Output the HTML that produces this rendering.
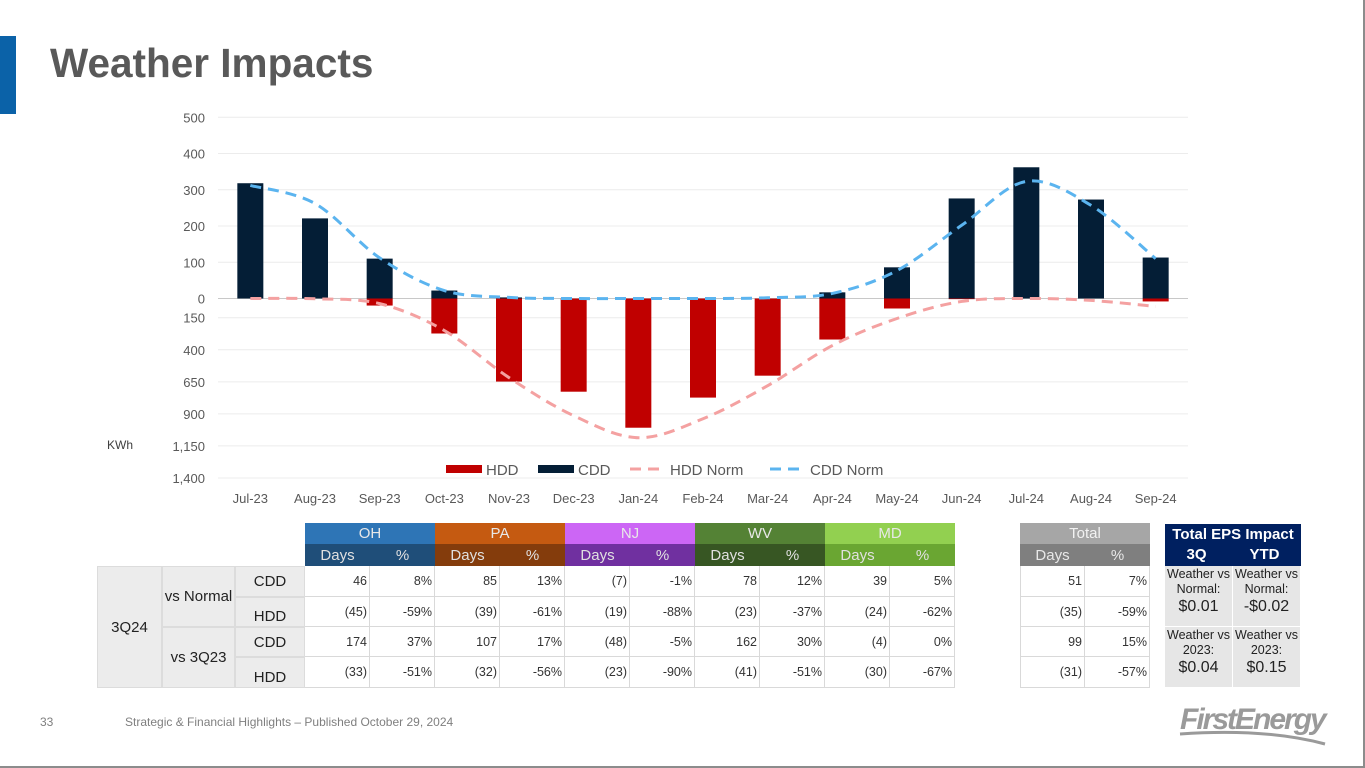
<!DOCTYPE html>
<html><head><meta charset="utf-8"><style>
body{margin:0;width:1365px;height:768px;position:relative;background:#fff;font-family:"Liberation Sans",sans-serif;overflow:hidden}
.a{position:absolute}
.c{position:absolute;display:flex;align-items:center;justify-content:center;box-sizing:border-box;font-size:15px}
.d{position:absolute;box-sizing:border-box;font-size:12.5px;color:#333;text-align:right;padding-right:2px;border-right:1px solid #d9d9d9;border-bottom:1px solid #d9d9d9;line-height:30px}
</style></head><body>
<div class="a" style="left:0;top:0;width:1363px;height:766px;border-right:2px solid #8c8c8c;border-bottom:2px solid #8c8c8c"></div>
<div class="a" style="left:0;top:36px;width:16px;height:78px;background:#0b62a8"></div>
<div class="a" style="left:50px;top:40px;font-size:40.5px;font-weight:bold;color:#595959">Weather Impacts</div>
<svg class="a" style="left:0;top:0" width="1365" height="510" id="chart"></svg>
<div class="a" style="left:107px;top:438px;font-size:12px;color:#404040">KWh</div>

<div id="tbl"></div>

<div class="a" style="left:40px;top:715px;font-size:12px;color:#7f7f7f">33</div>
<div class="a" style="left:125px;top:715px;font-size:12px;color:#7f7f7f">Strategic &amp; Financial Highlights – Published October 29, 2024</div>
<div class="a" style="left:1180px;top:703px;font-size:30px;font-weight:bold;font-style:italic;color:#9a9a9a;letter-spacing:-2px">FirstEnergy</div>
<svg class="a" style="left:1175px;top:728px" width="160" height="20"><path d="M5 6 Q90 0 150 16" stroke="#9a9a9a" stroke-width="3" fill="none"/></svg>

<script>
const months=["Jul-23","Aug-23","Sep-23","Oct-23","Nov-23","Dec-23","Jan-24","Feb-24","Mar-24","Apr-24","May-24","Jun-24","Jul-24","Aug-24","Sep-24"];
const cdd=[318,221,110,22,3,0,0,0,0,17,86,276,362,273,113];
const hdd=[0,0,55,273,648,727,1008,773,602,320,78,5,0,0,23];
const cddNorm=[312,262,112,22,3,0,0,0,2,14,77,202,323,257,110];
const hddNorm=[0,2,40,250,617,914,1086,938,680,367,156,23,0,15,62];
const upTicks=[0,100,200,300,400,500];
const lowTicks=[150,400,650,900,1150,1400];
const lowLabels=["150","400","650","900","1,150","1,400"];
const NS="http://www.w3.org/2000/svg";
const svg=document.getElementById('chart');
const Y0=298.5,x0=218,x1=1188;
const step=(x1-x0)/months.length;
const xs=i=>x0+step*(i+0.5);
const yUp=v=>Y0-v*0.3625;
const yLo=v=>Y0+v*0.1282;
function mk(t,a){const e=document.createElementNS(NS,t);for(const k in a)e.setAttribute(k,a[k]);svg.appendChild(e);return e;}
upTicks.forEach(t=>{const l=mk('line',{x1:x0,x2:x1,y1:yUp(t),y2:yUp(t),stroke:t?'#ececec':'#c8c8c8','stroke-width':1});

const tx=mk('text',{x:205,y:yUp(t)+5,'text-anchor':'end','font-size':13,fill:'#595959'});tx.textContent=t;
});
lowTicks.forEach((t,i)=>{const l=mk('line',{x1:x0,x2:x1,y1:yLo(t),y2:yLo(t),stroke:'#ececec','stroke-width':1});

const tx=mk('text',{x:205,y:yLo(t)+5,'text-anchor':'end','font-size':13,fill:'#595959'});tx.textContent=lowLabels[i];
});
const bw=26;
months.forEach((m,i)=>{
 const b1=mk('rect',{x:xs(i)-bw/2,y:yUp(cdd[i]),width:bw,height:Math.max(0,Y0-yUp(cdd[i])),fill:'#041e36'});
 
 const b2=mk('rect',{x:xs(i)-bw/2,y:Y0,width:bw,height:Math.max(0,yLo(hdd[i])-Y0),fill:'#c00000'});
 
 const tx=mk('text',{x:xs(i),y:503,'text-anchor':'middle','font-size':13,fill:'#595959'});tx.textContent=m;
 
});
function smooth(pts){let d=`M${pts[0][0]},${pts[0][1]}`;for(let i=0;i<pts.length-1;i++){const p0=pts[i-1]||pts[i],p1=pts[i],p2=pts[i+1],p3=pts[i+2]||p2;
 d+=` C${p1[0]+(p2[0]-p0[0])/6},${p1[1]+(p2[1]-p0[1])/6} ${p2[0]-(p3[0]-p1[0])/6},${p2[1]-(p3[1]-p1[1])/6} ${p2[0]},${p2[1]}`;}return d;}
const l1=mk('path',{d:smooth(hddNorm.map((v,i)=>[xs(i),yLo(v)])),stroke:'#f4a1a1','stroke-width':3,fill:'none','stroke-dasharray':'11 7'});

const l2=mk('path',{d:smooth(cddNorm.map((v,i)=>[xs(i),yUp(v)])),stroke:'#5bb4ef','stroke-width':3,fill:'none','stroke-dasharray':'11 7'});

const lg=[["HDD",'rect','#c00000',446],["CDD",'rect','#041e36',538],["HDD Norm",'line','#f4a1a1',630],["CDD Norm",'line','#5bb4ef',770]];
lg.forEach(([n,t,c,x])=>{let e;if(t==='rect')e=mk('rect',{x:x,y:465,width:36,height:8,fill:c});
 else e=mk('line',{x1:x,x2:x+35,y1:469,y2:469,stroke:c,'stroke-width':3,'stroke-dasharray':'11 7'});
 
 const tx=mk('text',{x:x+40,y:475,'font-size':15,fill:'#595959'});tx.textContent=n;
 });

const regions=["OH","PA","NJ","WV","MD"];
const topCol=["#2e75b6","#c55a11","#cc66f5","#548235","#92d050"];
const botCol=["#1f4e79","#843c0c","#7030a0","#375623","#6aa632"];
const rows=[["46","8%","85","13%","(7)","-1%","78","12%","39","5%"],
["(45)","-59%","(39)","-61%","(19)","-88%","(23)","-37%","(24)","-62%"],
["174","37%","107","17%","(48)","-5%","162","30%","(4)","0%"],
["(33)","-51%","(32)","-56%","(23)","-90%","(41)","-51%","(30)","-67%"]];
const tot=[["51","7%"],["(35)","-59%"],["99","15%"],["(31)","-57%"]];
const rowY=[566,597,627,657,688];
let h='';
function cell(x,y,w,hh,bg,txt,name,extra){return `<div class="c" style="left:${x}px;top:${y}px;width:${w}px;height:${hh}px;background:${bg};${extra||''}">${txt}</div>`;}
regions.forEach((r,i)=>{const x=305+130*i;
 h+=cell(x,523,130,21,topCol[i],r,'header-'+r.toLowerCase(),'color:#e8e8e8');
 h+=cell(x,544,65,22,botCol[i],'Days','header-days','color:#e0e0e0');
 h+=cell(x+65,544,65,22,botCol[i],'%','header-pct','color:#e0e0e0');});
h+=cell(1020,523,130,21,'#a6a6a6','Total','header-total','color:#f2f2f2');
h+=cell(1020,544,65,22,'#7f7f7f','Days','header-days','color:#e8e8e8');
h+=cell(1085,544,65,22,'#7f7f7f','%','header-pct','color:#e8e8e8');
h+=cell(97,566,65,122,'#ececec','3Q24','label-3q24','border:1px solid #dcdcdc;color:#222');
h+=cell(162,566,73,61,'#ececec','vs Normal','label-vs-normal','border:1px solid #dcdcdc;color:#222');
h+=cell(162,627,73,61,'#ececec','vs 3Q23','label-vs-3q23','border:1px solid #dcdcdc;color:#222');
['CDD','HDD','CDD','HDD'].forEach((t,r)=>{h+=cell(235,rowY[r],70,rowY[r+1]-rowY[r],'#ececec',t,'label-'+t.toLowerCase(),'border:1px solid #dcdcdc;color:#222;'+(r%2?'align-items:flex-end;padding-bottom:1px':'align-items:center'));});
rows.forEach((row,r)=>{row.forEach((v,j)=>{h+=`<div class="d" style="left:${305+65*j}px;top:${rowY[r]}px;width:65px;height:${rowY[r+1]-rowY[r]}px">${v}</div>`;});
 tot[r].forEach((v,j)=>{h+=`<div class="d" style="left:${1020+65*j}px;top:${rowY[r]}px;width:65px;height:${rowY[r+1]-rowY[r]}px;${j==0?'border-left:1px solid #d9d9d9':''}">${v}</div>`;});});
h+=`<div class="c" style="left:1165px;top:524px;width:136px;height:42px;background:#002060;color:#fff;font-weight:bold;flex-direction:column;line-height:20px;font-size:15px"><div>Total EPS Impact</div><div style="display:flex;width:100%;justify-content:space-around"><span>3Q</span><span>YTD</span></div></div>`;
const eps=[["Normal:","$0.01"],["Normal:","-$0.02"],["2023:","$0.04"],["2023:","$0.15"]];
eps.forEach((e,k)=>{const x=1165+(k%2)*68,y=k<2?566:627;
 h+=`<div class="c" style="left:${x}px;top:${y}px;width:67px;height:60px;background:#e6e6e6;flex-direction:column;justify-content:flex-start;padding-top:1px;color:#222;font-size:12.5px;line-height:15px"><div>Weather vs</div><div>${e[0]}</div><div style="font-size:16px;line-height:20px">${e[1]}</div></div>`;});
document.getElementById('tbl').innerHTML=h;
</script>
</body></html>
